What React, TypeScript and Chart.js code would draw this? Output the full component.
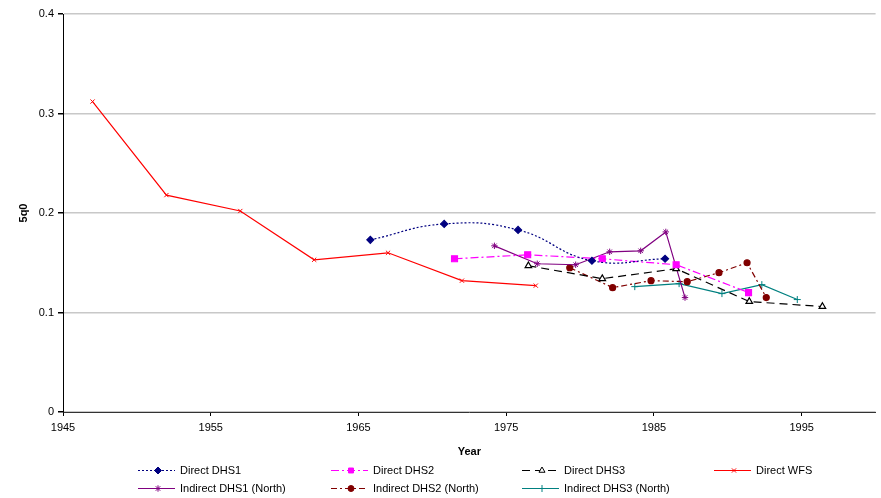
import React, { useEffect, useRef } from 'react';
import { Chart, registerables } from 'chart.js';
import { drawPoint } from 'chart.js/helpers';

Chart.register(...registerables);

const xTickYears = [1945, 1955, 1965, 1975, 1985, 1995];
const yTickValues = [0, 0.1, 0.2, 0.3, 0.4];

const directDHS1Years = [1965.8, 1970.8, 1975.8, 1980.8, 1985.75];
const directDHS1Values = [0.173, 0.189, 0.183, 0.152, 0.154];

const directDHS2Years = [1971.5, 1976.45, 1981.5, 1986.5, 1991.4];
const directDHS2Values = [0.154, 0.158, 0.154, 0.148, 0.12];

const directDHS3Years = [1976.5, 1981.5, 1986.5, 1991.45, 1996.4];
const directDHS3Values = [0.147, 0.134, 0.144, 0.111, 0.106];

const directWFSYears = [1947, 1952, 1957, 1962, 1967, 1972, 1977];
const directWFSValues = [0.312, 0.218, 0.202, 0.153, 0.16, 0.132, 0.127];

const indirectDHS1Years = [1974.2, 1977.1, 1979.7, 1982, 1984.1, 1985.8, 1987.1];
const indirectDHS1Values = [0.167, 0.149, 0.148, 0.161, 0.162, 0.181, 0.115];

const indirectDHS2Years = [1979.3, 1982.2, 1984.8, 1987.25, 1989.4, 1991.3, 1992.6];
const indirectDHS2Values = [0.145, 0.125, 0.132, 0.131, 0.14, 0.15, 0.115];

const indirectDHS3Years = [1983.7, 1986.7, 1989.6, 1992.3, 1994.7];
const indirectDHS3Values = [0.126, 0.129, 0.119, 0.128, 0.113];

const seriesLabels = [
  'Direct DHS1',
  'Direct DHS2',
  'Direct DHS3',
  'Direct WFS',
  'Indirect DHS1 (North)',
  'Indirect DHS2 (North)',
  'Indirect DHS3 (North)',
];

const pts = (xs: number[], ys: number[]) => xs.map((x, i) => ({ x, y: ys[i] }));

const FONT = '"Liberation Sans", Arial, sans-serif';

const legendCols = [138, 331, 522, 714];
const legendRows = [470, 488];

const legendPlugin = {
  id: 'gridLegend',
  afterDraw(chart: any) {
    const ctx = chart.ctx as CanvasRenderingContext2D;
    chart.data.datasets.forEach((ds: any, i: number) => {
      const x0 = legendCols[i % 4];
      const y = legendRows[Math.floor(i / 4)];
      ctx.save();
      ctx.strokeStyle = ds.borderColor;
      ctx.lineWidth = ds.borderWidth;
      ctx.setLineDash(ds.borderDash || []);
      ctx.beginPath();
      ctx.moveTo(x0, y + 0.5);
      ctx.lineTo(x0 + 37, y + 0.5);
      ctx.stroke();
      ctx.setLineDash([]);
      ctx.fillStyle = ds.pointBackgroundColor;
      ctx.strokeStyle = ds.pointBorderColor;
      ctx.lineWidth = 1;
      drawPoint(ctx, { pointStyle: ds.pointStyle, radius: Math.min(ds.pointRadius, 3.5), borderWidth: 1, rotation: 0 } as any, x0 + 20, y + 0.5);
      ctx.fillStyle = '#000';
      ctx.font = `11px ${FONT}`;
      ctx.textBaseline = 'middle';
      ctx.textAlign = 'left';
      ctx.fillText(ds.label, x0 + 42, y + 1);
      ctx.restore();
    });
  },
};

export default function App() {
  const ref = useRef<HTMLCanvasElement | null>(null);

  useEffect(() => {
    if (!ref.current) return;
    const chart = new Chart(ref.current, {
      type: 'line',
      data: {
        datasets: [
          {
            label: seriesLabels[0],
            data: pts(directDHS1Years, directDHS1Values),
            borderColor: '#000080',
            borderWidth: 1.2,
            borderDash: [2, 2],
            tension: 0.45,
            pointStyle: 'rectRot',
            pointRadius: 3.5,
            pointBackgroundColor: '#000080',
            pointBorderColor: '#000080',
          },
          {
            label: seriesLabels[1],
            data: pts(directDHS2Years, directDHS2Values),
            borderColor: '#FF00FF',
            borderWidth: 1.2,
            borderDash: [8, 3, 2, 3],
            tension: 0,
            pointStyle: 'rect',
            pointRadius: 4.2,
            pointBackgroundColor: '#FF00FF',
            pointBorderColor: '#FF00FF',
          },
          {
            label: seriesLabels[2],
            data: pts(directDHS3Years, directDHS3Values),
            borderColor: '#000000',
            borderWidth: 1.2,
            borderDash: [8, 5],
            tension: 0,
            pointStyle: 'triangle',
            pointRadius: 3.8,
            pointBackgroundColor: '#ffffff',
            pointBorderColor: '#000000',
            pointBorderWidth: 1.2,
          },
          {
            label: seriesLabels[3],
            data: pts(directWFSYears, directWFSValues),
            borderColor: '#FF0000',
            borderWidth: 1.2,
            tension: 0,
            pointStyle: 'crossRot',
            pointRadius: 3,
            pointBackgroundColor: '#FF0000',
            pointBorderColor: '#FF0000',
            pointBorderWidth: 1,
          },
          {
            label: seriesLabels[4],
            data: pts(indirectDHS1Years, indirectDHS1Values),
            borderColor: '#800080',
            borderWidth: 1.2,
            tension: 0,
            pointStyle: 'star',
            pointRadius: 3.2,
            pointBackgroundColor: '#800080',
            pointBorderColor: '#800080',
            pointBorderWidth: 1,
          },
          {
            label: seriesLabels[5],
            data: pts(indirectDHS2Years, indirectDHS2Values),
            borderColor: '#800000',
            borderWidth: 1.2,
            borderDash: [6, 3, 2, 3],
            tension: 0,
            pointStyle: 'circle',
            pointRadius: 3,
            pointBackgroundColor: '#800000',
            pointBorderColor: '#800000',
          },
          {
            label: seriesLabels[6],
            data: pts(indirectDHS3Years, indirectDHS3Values),
            borderColor: '#008080',
            borderWidth: 1.2,
            tension: 0,
            pointStyle: 'cross',
            pointRadius: 3.5,
            pointBackgroundColor: '#008080',
            pointBorderColor: '#008080',
            pointBorderWidth: 1,
          },
        ],
      },
      options: {
        responsive: false,
        animation: false,
        parsing: false as any,
        layout: { padding: { left: 0, right: -3, top: 14, bottom: 34 } },
        plugins: {
          legend: { display: false },
          tooltip: { enabled: false },
        },
        scales: {
          x: {
            type: 'linear',
            min: 1945,
            max: 2000,
            afterBuildTicks: (scale: any) => {
              scale.ticks = xTickYears.map((v) => ({ value: v }));
            },
            afterFit: (scale: any) => {
              scale.height = 52;
            },
            ticks: {
              autoSkip: false,
              maxRotation: 0,
              padding: 5,
              color: '#000',
              font: { family: FONT, size: 11 },
              callback: (v: any) => String(v),
            },
            grid: {
              drawOnChartArea: false,
              drawTicks: true,
              tickLength: 4,
              tickColor: '#000',
            },
            border: { color: '#333', width: 1 },
            title: {
              display: true,
              text: 'Year',
              color: '#000',
              font: { family: FONT, size: 11, weight: 'bold' },
              padding: { top: 0, bottom: 5 },
            },
          },
          y: {
            type: 'linear',
            min: 0,
            max: 0.4,
            afterBuildTicks: (scale: any) => {
              scale.ticks = yTickValues.map((v) => ({ value: v }));
            },
            afterFit: (scale: any) => {
              scale.width = 63;
            },
            ticks: {
              padding: 4,
              color: '#000',
              font: { family: FONT, size: 11 },
              callback: (v: any) => String(Math.round(Number(v) * 10) / 10),
            },
            grid: {
              color: '#c8c8c8',
              lineWidth: 1.5,
              tickLength: 5,
              tickColor: '#000',
            },
            border: { color: '#000', width: 1 },
            title: {
              display: true,
              text: '5q0',
              color: '#000',
              font: { family: FONT, size: 11, weight: 'bold' },
              padding: { top: 17, bottom: 0 },
            },
          },
        },
      },
      plugins: [legendPlugin],
    });
    return () => chart.destroy();
  }, []);

  return (
    <div style={{ position: 'absolute', left: 0, top: 0, width: 881, height: 498, background: '#fff' }}>
      <canvas ref={ref} width={881} height={498} style={{ display: 'block' }} />
    </div>
  );
}
